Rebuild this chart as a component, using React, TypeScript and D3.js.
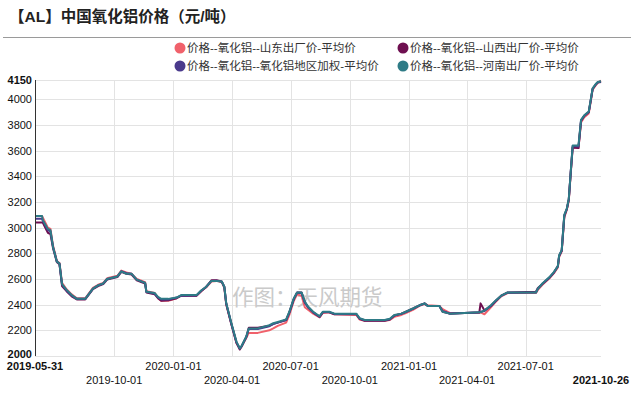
import { useEffect, useRef } from "react";
import * as d3 from "d3";

const dates = [
  "2019-05-31", "2019-06-11", "2019-06-12", "2019-06-20", "2019-06-24", "2019-06-28",
  "2019-07-04", "2019-07-08", "2019-07-12", "2019-07-19", "2019-07-27", "2019-08-04",
  "2019-08-17", "2019-08-29", "2019-09-06", "2019-09-14", "2019-09-20", "2019-10-06",
  "2019-10-12", "2019-10-20", "2019-10-28", "2019-11-05", "2019-11-18", "2019-11-20",
  "2019-12-03", "2019-12-08", "2019-12-13", "2019-12-24", "2020-01-06", "2020-01-13",
  "2020-02-06", "2020-02-13", "2020-02-21", "2020-02-29", "2020-03-08", "2020-03-16",
  "2020-03-20", "2020-03-23", "2020-03-31", "2020-04-08", "2020-04-13", "2020-04-16",
  "2020-04-23", "2020-04-27", "2020-05-11", "2020-05-29", "2020-06-04", "2020-06-11",
  "2020-06-24", "2020-06-29", "2020-07-06", "2020-07-11", "2020-07-18", "2020-07-23",
  "2020-07-28", "2020-08-05", "2020-08-15", "2020-08-20", "2020-08-30", "2020-09-07",
  "2020-10-11", "2020-10-16", "2020-10-24", "2020-11-24", "2020-12-02", "2020-12-09",
  "2020-12-20", "2020-12-27", "2021-01-07", "2021-01-17", "2021-01-25", "2021-01-30",
  "2021-02-17", "2021-02-22", "2021-03-05", "2021-04-20", "2021-04-22", "2021-04-28",
  "2021-05-08", "2021-05-16", "2021-05-24", "2021-06-03", "2021-07-17", "2021-07-20",
  "2021-07-27", "2021-08-07", "2021-08-14", "2021-08-20", "2021-08-22", "2021-08-26",
  "2021-08-30", "2021-09-03", "2021-09-06", "2021-09-09", "2021-09-12", "2021-09-21",
  "2021-09-25", "2021-09-30", "2021-10-07", "2021-10-10", "2021-10-13", "2021-10-18",
  "2021-10-21", "2021-10-26",
];

// 山东出厂价
const shandong = [
  3090, 3090, 3080, 3000, 2990, 2860, 2740, 2725, 2570, 2520, 2480, 2450,
  2450, 2530, 2555, 2570, 2605, 2625, 2665, 2650, 2640, 2600, 2575, 2505,
  2490, 2450, 2430, 2430, 2450, 2470, 2470, 2505, 2535, 2580, 2585, 2575,
  2530, 2400, 2250, 2100, 2060, 2075, 2140, 2180, 2180, 2200, 2215, 2235,
  2260, 2320, 2430, 2480, 2470, 2380, 2360, 2330, 2300, 2335, 2340, 2325,
  2320, 2285, 2275, 2275, 2280, 2305, 2320, 2335, 2360, 2390, 2405, 2395,
  2390, 2365, 2335, 2335, 2340, 2325, 2380, 2425, 2465, 2490, 2490, 2515,
  2555, 2605, 2645, 2690, 2770, 2815, 3080, 3140, 3210, 3420, 3625, 3620,
  3820, 3860, 3890, 3980, 4075, 4110, 4130, 4145,
];

// 山西出厂价
const shanxi = [
  3040, 3040, 3040, 2960, 2950, 2840, 2730, 2715, 2545, 2505, 2465, 2440,
  2440, 2520, 2545, 2560, 2595, 2615, 2655, 2640, 2635, 2590, 2565, 2495,
  2480, 2450, 2430, 2435, 2450, 2470, 2470, 2505, 2540, 2590, 2590, 2580,
  2540, 2405, 2245, 2100, 2050, 2075, 2145, 2220, 2220, 2235, 2250, 2260,
  2280, 2340, 2445, 2495, 2495, 2420, 2380, 2340, 2305, 2340, 2340, 2325,
  2325, 2290, 2275, 2275, 2285, 2315, 2330, 2345, 2370, 2395, 2410, 2390,
  2390, 2345, 2330, 2340, 2410, 2355, 2390, 2430, 2470, 2495, 2500, 2530,
  2560, 2610, 2650, 2700, 2780, 2820, 3090, 3145, 3220, 3430, 3625, 3620,
  3830, 3870, 3900, 3990, 4080, 4115, 4130, 4135,
];

// 氧化铝地区加权
const weighted = [
  3070, 3070, 3055, 2980, 2970, 2850, 2735, 2720, 2555, 2510, 2470, 2445,
  2445, 2525, 2550, 2565, 2600, 2620, 2660, 2645, 2640, 2595, 2570, 2500,
  2485, 2455, 2440, 2440, 2455, 2470, 2472, 2508, 2538, 2585, 2587, 2578,
  2538, 2408, 2252, 2106, 2058, 2078, 2148, 2210, 2210, 2232, 2248, 2260,
  2280, 2338, 2445, 2492, 2490, 2415, 2380, 2340, 2306, 2342, 2342, 2328,
  2327, 2292, 2278, 2278, 2286, 2315, 2328, 2342, 2367, 2393, 2408, 2391,
  2390, 2350, 2331, 2339, 2345, 2350, 2390, 2432, 2468, 2493, 2495, 2524,
  2562, 2612, 2652, 2697, 2780, 2822, 3095, 3147, 3222, 3432, 3635, 3632,
  3835, 3872, 3900, 3990, 4082, 4117, 4132, 4138,
];

// 河南出厂价
const henan = [
  3090, 3090, 3060, 2990, 2980, 2850, 2735, 2720, 2560, 2515, 2475, 2445,
  2445, 2525, 2550, 2565, 2600, 2620, 2660, 2640, 2640, 2595, 2570, 2500,
  2490, 2460, 2445, 2445, 2455, 2475, 2475, 2510, 2540, 2585, 2585, 2580,
  2540, 2410, 2255, 2110, 2060, 2080, 2150, 2215, 2215, 2240, 2255, 2265,
  2285, 2345, 2450, 2495, 2495, 2425, 2385, 2345, 2310, 2345, 2345, 2330,
  2330, 2295, 2280, 2280, 2290, 2320, 2330, 2345, 2370, 2395, 2410, 2390,
  2390, 2345, 2330, 2340, 2340, 2355, 2395, 2435, 2470, 2495, 2495, 2525,
  2565, 2615, 2655, 2700, 2785, 2825, 3100, 3150, 3225, 3435, 3640, 3640,
  3840, 3875, 3905, 3995, 4085, 4120, 4135, 4140,
];

const seriesNames = [
  "价格--氧化铝--山东出厂价-平均价",
  "价格--氧化铝--山西出厂价-平均价",
  "价格--氧化铝--氧化铝地区加权-平均价",
  "价格--氧化铝--河南出厂价-平均价",
];
const seriesColors = ["#f0616b", "#6e0f50", "#4a3a8c", "#2e7b86"];
const seriesValues = [shandong, shanxi, weighted, henan];

const yTicks = [2000, 2200, 2400, 2600, 2800, 3000, 3200, 3400, 3600, 3800, 4000, 4150];
const xTickDates = [
  "2019-05-31", "2019-10-01", "2020-01-01", "2020-04-01", "2020-07-01",
  "2020-10-01", "2021-01-01", "2021-04-01", "2021-07-01", "2021-10-26",
];

const FONT = "'Liberation Sans', Arial, 'Noto Sans CJK SC', sans-serif";

export default function App() {
  const ref = useRef<SVGSVGElement>(null);

  useEffect(() => {
    if (!ref.current) return;
    const width = 631;
    const height = 393;
    const left = 35;
    const right = 601;
    const top = 80;
    const bottom = 356;

    const svg = d3.select(ref.current);
    svg.selectAll("*").remove();
    svg.attr("width", width).attr("height", height);

    const parse = d3.utcParse("%Y-%m-%d");
    const x = d3
      .scaleUtc()
      .domain([parse(dates[0])!, parse(dates[dates.length - 1])!])
      .range([left, right]);
    const y = d3.scaleLinear().domain([2000, 4150]).range([bottom, top]);

    // title
    svg
      .append("text")
      .attr("x", 9)
      .attr("y", 22)
      .attr("font-family", FONT)
      .attr("font-size", 15.5)
      .attr("font-weight", "bold")
      .attr("fill", "#222")
      .text("【AL】中国氧化铝价格（元/吨）");
    svg
      .append("line")
      .attr("x1", 3)
      .attr("x2", width)
      .attr("y1", 37.5)
      .attr("y2", 37.5)
      .attr("stroke", "#9a9a9a")
      .attr("stroke-width", 1);

    // legend
    const legend = svg.append("g").attr("font-family", FONT).attr("font-size", 11.5);
    seriesNames.forEach((name, i) => {
      const lx = i % 2 === 0 ? 180 : 403;
      const ly = i < 2 ? 48 : 66;
      legend
        .append("circle")
        .attr("cx", lx)
        .attr("cy", ly)
        .attr("r", 5.5)
        .attr("fill", seriesColors[i]);
      legend
        .append("text")
        .attr("x", lx + 7)
        .attr("y", ly + 4)
        .attr("fill", "#333")
        .text(name);
    });

    // grid
    const grid = svg.append("g");
    grid
      .selectAll("line.h")
      .data(yTicks)
      .enter()
      .append("line")
      .attr("x1", left)
      .attr("x2", right)
      .attr("y1", (d: number) => Math.round(y(d)) + 0.5)
      .attr("y2", (d: number) => Math.round(y(d)) + 0.5)
      .attr("stroke", "#e3e3e3");
    grid
      .selectAll("line.v")
      .data(xTickDates.slice(1, -1))
      .enter()
      .append("line")
      .attr("x1", (d: string) => Math.round(x(parse(d)!)) + 0.5)
      .attr("x2", (d: string) => Math.round(x(parse(d)!)) + 0.5)
      .attr("y1", top)
      .attr("y2", bottom)
      .attr("stroke", "#e3e3e3");

    // watermark
    svg
      .append("text")
      .attr("x", 232)
      .attr("y", 305)
      .attr("font-family", "'Noto Sans CJK SC', sans-serif")
      .attr("font-size", 21.5)
      .attr("fill", "#cacaca")
      .text("作图：天风期货");

    // lines
    const line = d3
      .line<number>()
      .x((_d: number, i: number) => x(parse(dates[i])!))
      .y((d: number) => y(d));
    seriesValues.forEach((vals, i) => {
      svg
        .append("path")
        .attr("d", line(vals))
        .attr("fill", "none")
        .attr("stroke", seriesColors[i])
        .attr("stroke-width", 2)
        .attr("stroke-linejoin", "round");
    });

    // axes
    svg
      .append("line")
      .attr("x1", left + 0.5)
      .attr("x2", left + 0.5)
      .attr("y1", top)
      .attr("y2", bottom)
      .attr("stroke", "#333");

    const yAxis = svg.append("g").attr("font-family", FONT).attr("font-size", 11).attr("fill", "#111");
    yAxis
      .selectAll("text")
      .data(yTicks)
      .enter()
      .append("text")
      .attr("x", left - 3)
      .attr("y", (d: number) => y(d) + (d === 2000 ? 2 : 4))
      .attr("text-anchor", "end")
      .attr("font-weight", (d: number) => (d === 2000 || d === 4150 ? "bold" : "normal"))
      .text((d: number) => String(d));

    const xAxis = svg.append("g").attr("font-family", FONT).attr("font-size", 11).attr("fill", "#111");
    xAxis
      .selectAll("text")
      .data(xTickDates)
      .enter()
      .append("text")
      .attr("x", (d: string) => x(parse(d)!))
      .attr("y", (_d: string, i: number) => (i % 2 === 0 ? 370 : 384))
      .attr("text-anchor", "middle")
      .attr("font-weight", (_d: string, i: number) => (i === 0 || i === xTickDates.length - 1 ? "bold" : "normal"))
      .text((d: string) => d);
  }, []);

  return <svg ref={ref} style={{ position: "absolute", left: 0, top: 0 }} />;
}
